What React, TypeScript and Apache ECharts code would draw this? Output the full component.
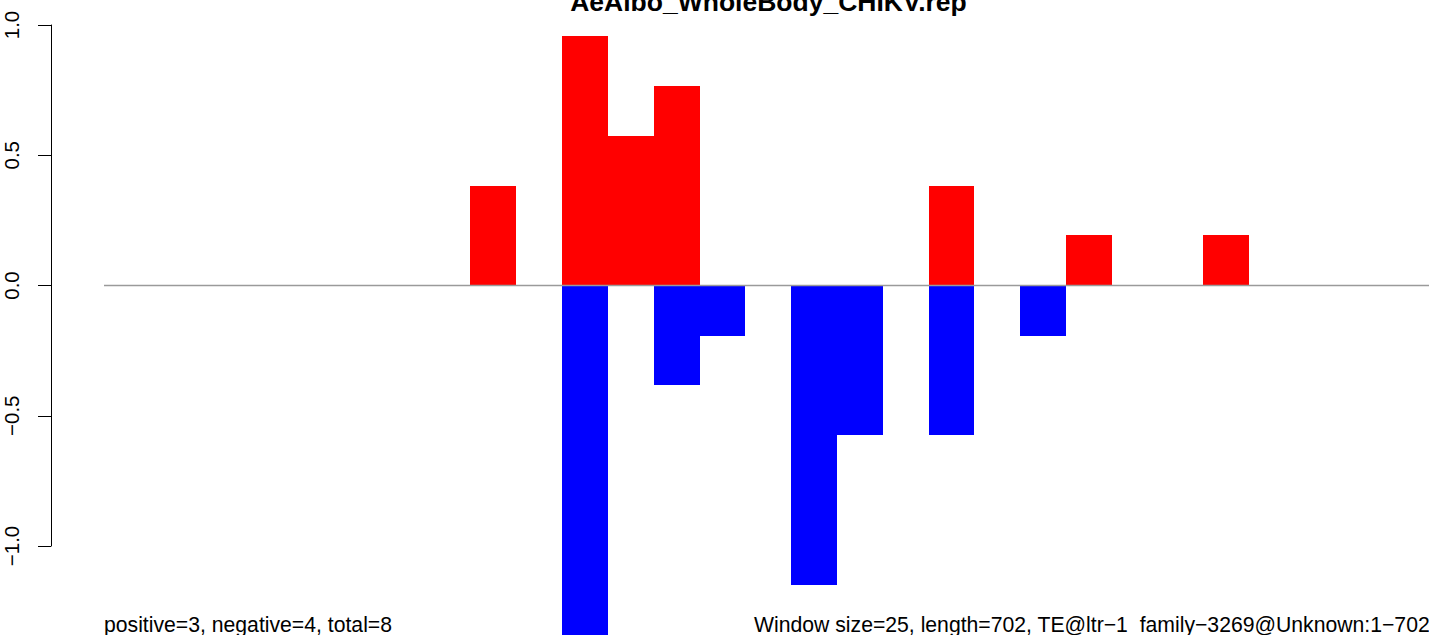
import React, { useEffect, useRef } from "react";
import * as echarts from "echarts";

// Window indices (25 bp windows) and values
const positiveBins = [8, 10, 11, 12, 18, 21, 24];
const positiveValues = [0.383, 0.958, 0.575, 0.766, 0.383, 0.192, 0.192];
const negativeBins = [10, 12, 13, 15, 16, 18, 20];
const negativeValues = [-1.36, -0.383, -0.192, -1.149, -0.575, -0.575, -0.192];

const yTicks = [-1, -0.5, 0, 0.5, 1];
const titleText = "AeAlbo_WholeBody_CHIKV.rep";
const leftNote = "positive=3, negative=4, total=8";
const rightNote = "Window size=25, length=702, TE@ltr\u22121_family\u22123269@Unknown:1\u2212702";

const X_MAX = 28.925;
const Y_MAX = 1.096;
const Y_MIN = -1.3417;
const FONT = "'Liberation Sans', Arial, Helvetica, sans-serif";

function barSeries(bins: number[], values: number[], color: string) {
  return {
    type: "custom",
    xAxisIndex: 0,
    yAxisIndex: 0,
    data: bins.map((b, i) => [b, values[i]]),
    renderItem: (params: any, api: any) => {
      const x0 = api.value(0);
      const v = api.value(1);
      const p0 = api.coord([x0, 0]);
      const p1 = api.coord([x0 + 1, v]);
      const xa = Math.round(p0[0]);
      const xb = Math.round(p1[0]);
      const ya = Math.round(Math.min(p0[1], p1[1]));
      const yb = Math.round(Math.max(p0[1], p1[1]));
      return {
        type: "rect",
        shape: { x: xa, y: ya, width: xb - xa, height: yb - ya },
        style: { fill: color },
      };
    },
    z: 2,
  };
}

export default function App() {
  const ref = useRef<HTMLDivElement>(null);
  useEffect(() => {
    if (!ref.current) return;
    const chart = echarts.init(ref.current, undefined, { renderer: "svg" });
    chart.setOption({
      animation: false,
      backgroundColor: "#ffffff",
      grid: [
        { left: 104, right: 0, top: 0, bottom: 0 },
        { left: 51, top: 25, height: 521, width: 10 },
      ],
      xAxis: [
        { type: "value", gridIndex: 0, min: 0, max: X_MAX, show: false },
        { type: "value", gridIndex: 1, min: 0, max: 1, show: false },
      ],
      yAxis: [
        {
          type: "value",
          gridIndex: 0,
          min: Y_MIN,
          max: Y_MAX,
          show: false,
          splitLine: { show: false },
        },
        {
          type: "value",
          gridIndex: 1,
          min: yTicks[0],
          max: yTicks[yTicks.length - 1],
          interval: 0.5,
          position: "left",
          splitLine: { show: false },
          axisLine: { show: true, lineStyle: { color: "#000", width: 1 } },
          axisTick: { show: true, length: 13, lineStyle: { color: "#000", width: 1 } },
          axisLabel: {
            rotate: 90,
            margin: 29,
            fontSize: 20.5,
            fontFamily: FONT,
            color: "#000",
            formatter: (v: number) => v.toFixed(1).replace("-", "\u2212"),
          },
        },
      ],
      series: [
        barSeries(positiveBins, positiveValues, "#ff0000"),
        barSeries(negativeBins, negativeValues, "#0000ff"),
        {
          type: "line",
          xAxisIndex: 0,
          yAxisIndex: 0,
          data: [
            [0, 0],
            [X_MAX, 0],
          ],
          symbol: "none",
          lineStyle: { color: "#9a9a9a", width: 1.5 },
          z: 3,
        },
      ],
      graphic: [
        {
          type: "text",
          x: 768.5,
          y: 2,
          style: {
            text: titleText,
            font: `bold 26.5px ${FONT}`,
            fill: "#000",
            align: "center",
            verticalAlign: "middle",
          },
        },
        {
          type: "text",
          x: 104,
          y: 624.5,
          style: {
            text: leftNote,
            font: `21.2px ${FONT}`,
            fill: "#000",
            align: "left",
            verticalAlign: "middle",
          },
        },
        {
          type: "text",
          x: 754,
          y: 624.5,
          style: {
            text: rightNote,
            font: `21.2px ${FONT}`,
            fill: "#000",
            align: "left",
            verticalAlign: "middle",
          },
        },
      ],
    });
    return () => chart.dispose();
  }, []);
  return (
    <div
      ref={ref}
      style={{ position: "fixed", left: 0, top: 0, width: 1429, height: 635 }}
    />
  );
}
